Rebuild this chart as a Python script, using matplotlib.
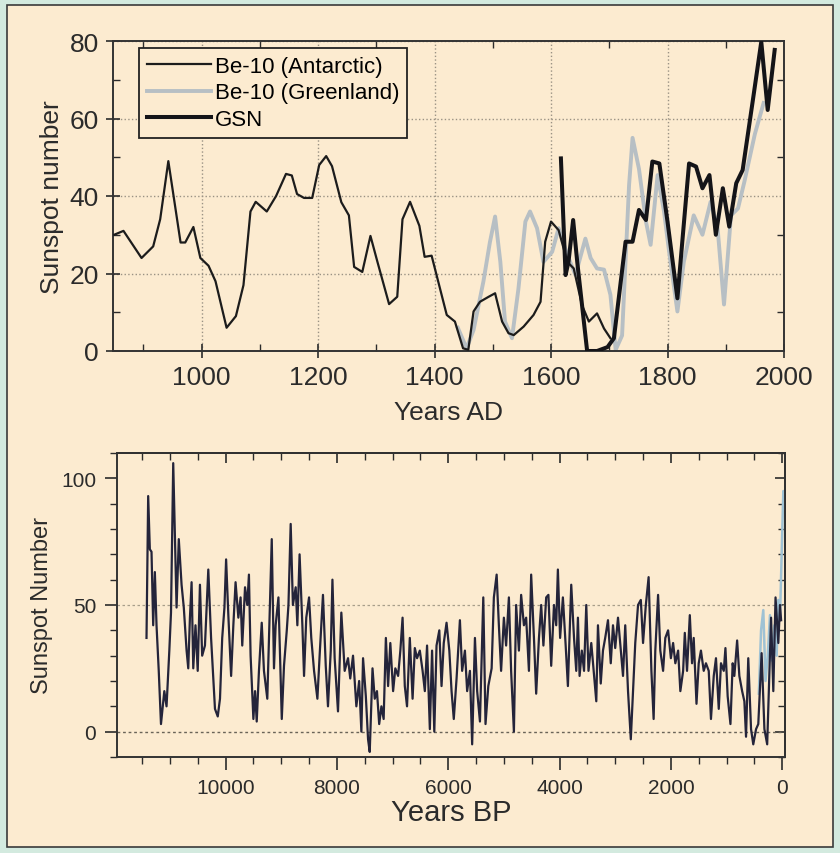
import matplotlib
matplotlib.use("Agg")
import matplotlib.pyplot as plt
from matplotlib.patches import Rectangle
from matplotlib.ticker import MultipleLocator, NullFormatter

plt.rcParams['font.family'] = ['Liberation Sans', 'DejaVu Sans']

# --- top panel: reconstructions for the last millennium (Years AD)
antarctic_year = [850, 866, 897, 917, 929, 943, 964, 972, 986, 998, 1012, 1024, 1043,
                  1059, 1072, 1084, 1093, 1112, 1128, 1145, 1155, 1164, 1176, 1190,
                  1202, 1214, 1224, 1240, 1253, 1262, 1276, 1290, 1302, 1322, 1336,
                  1345, 1358, 1374, 1383, 1395, 1421, 1435, 1449, 1458, 1467, 1478,
                  1493, 1504, 1516, 1527, 1536, 1553, 1570, 1582, 1590, 1600, 1613,
                  1628, 1639, 1653, 1665, 1679, 1691, 1702]
antarctic_ssn = [30, 31, 24, 27, 34, 49, 28, 28, 32, 24, 22, 18, 6,
                 9, 17, 36, 38.5, 36, 40, 45.7, 45.3, 40.5, 39.5, 39.5,
                 48, 50.3, 47.7, 38.4, 35, 21.7, 20.4, 29.7, 23, 12.1, 14,
                 34, 38.5, 32.3, 24.3, 24.6, 9.3, 7.6, 0.7, 0.3, 10.2, 12.7,
                 14, 14.9, 7.6, 4.6, 4.1, 6.3, 9.3, 12.7, 28.2, 33.4, 31.2,
                 23, 21.3, 11.9, 7.6, 9.7, 5.8, 3.3]

greenland_year = [1440, 1455, 1467, 1484, 1495, 1504, 1513, 1521, 1533, 1544, 1556,
                  1564, 1576, 1587, 1602, 1613, 1628, 1642, 1659, 1668, 1679, 1691,
                  1702, 1711, 1722, 1734, 1740, 1751, 1763, 1771, 1783, 1794, 1802,
                  1817, 1828, 1845, 1860, 1874, 1886, 1897, 1909, 1921, 1932, 1950, 1965]
greenland_ssn = [6, 0.7, 5.4, 18, 28, 34.7, 23, 7.6, 3.3, 16, 33.4,
                 36, 31.7, 23, 25.6, 31.7, 24.8, 19.6, 29, 24, 21.3, 21,
                 14.5, 0.3, 4, 42.8, 55, 47, 33.4, 27.4, 45.4, 36, 26.5,
                 10.2, 23, 35, 30, 38.5, 31.7, 12, 35, 36.8, 43.7, 56, 64]

gsn_year = [1617, 1625, 1630, 1638, 1645, 1662, 1679, 1697, 1708, 1728, 1740, 1751,
            1763, 1774, 1786, 1800, 1817, 1837, 1849, 1860, 1872, 1883, 1895, 1906,
            1918, 1929, 1947, 1961, 1972, 1984]
gsn_ssn = [49.7, 19.6, 23, 33.8, 23, 0, 0, 1, 3.3, 28.2, 28.2, 36.4,
           33.8, 48.9, 48.4, 33.4, 13.6, 48.4, 47.6, 42, 45.4, 30, 42, 32.1,
           43.3, 46.7, 65.2, 79.8, 62.2, 77.7]

# --- bottom panel: Holocene reconstruction (Years BP)
bp_year = [11420, 11390, 11360, 11330, 11300, 11270, 11240, 11200, 11160, 11100,
           11060, 11010, 10980, 10940, 10880, 10840, 10790, 10750, 10700, 10670,
           10640, 10610, 10580, 10540, 10500, 10460, 10420, 10370, 10310, 10260,
           10190, 10140, 10100, 10060, 10020, 9990, 9950, 9900, 9860, 9820,
           9770, 9730, 9700, 9650, 9610, 9580, 9550, 9500, 9470, 9440,
           9400, 9350, 9310, 9250, 9220, 9170, 9130, 9100, 9050, 8990,
           8950, 8900, 8870, 8830, 8790, 8740, 8710, 8670, 8620, 8590,
           8550, 8500, 8460, 8410, 8350, 8310, 8250, 8200, 8160, 8110,
           8080, 8040, 7980, 7920, 7860, 7800, 7760, 7710, 7650, 7600,
           7560, 7530, 7480, 7440, 7410, 7360, 7320, 7280, 7240, 7200,
           7160, 7120, 7080, 7040, 6990, 6950, 6900, 6860, 6820, 6780,
           6740, 6690, 6640, 6600, 6560, 6510, 6460, 6420, 6380, 6330,
           6290, 6250, 6210, 6160, 6120, 6080, 6030, 5980, 5940, 5900,
           5850, 5790, 5750, 5700, 5660, 5610, 5570, 5520, 5480, 5430,
           5370, 5330, 5280, 5220, 5180, 5130, 5090, 5050, 5000, 4960,
           4910, 4870, 4820, 4780, 4730, 4690, 4640, 4600, 4550, 4510,
           4460, 4420, 4370, 4330, 4290, 4240, 4200, 4150, 4100, 4060,
           4030, 3990, 3940, 3890, 3850, 3790, 3740, 3700, 3670, 3640,
           3600, 3560, 3520, 3480, 3430, 3380, 3340, 3310, 3260, 3220,
           3180, 3130, 3080, 3040, 3000, 2950, 2900, 2860, 2820, 2770,
           2720, 2680, 2640, 2590, 2540, 2500, 2450, 2400, 2350, 2310,
           2280, 2230, 2190, 2140, 2100, 2050, 2000, 1960, 1920, 1870,
           1830, 1780, 1750, 1710, 1660, 1620, 1590, 1540, 1500, 1460,
           1410, 1370, 1320, 1280, 1230, 1190, 1140, 1100, 1050, 1020,
           980, 930, 890, 860, 810, 770, 720, 680, 650, 610,
           560, 520, 470, 430, 370, 320, 270, 230, 200, 160,
           120, 90, 70, 40, 20]
bp_ssn = [37, 93, 72, 71, 42, 63, 42, 24, 3, 16,
          10, 32, 47, 106, 49, 76, 58, 49, 32, 25,
          45, 59, 25, 42, 24, 58, 30, 34, 64, 37,
          9, 6, 13, 37, 49, 68, 46, 22, 42, 59,
          45, 53, 34, 57, 50, 62, 30, 5, 16, 4,
          24, 43, 24, 13, 37, 76, 25, 42, 53, 5,
          26, 40, 50, 82, 50, 57, 42, 70, 42, 22,
          45, 53, 37, 24, 13, 30, 54, 26, 10, 32,
          60, 29, 8, 47, 24, 29, 21, 30, 10, 20,
          0, 29, 14, -3, -8, 25, 13, 16, 3, 10,
          5, 37, 18, 35, 16, 25, 22, 32, 45, 18,
          10, 37, 13, 33, 29, 32, 24, 16, 34, 1,
          32, 0, 34, 40, 18, 35, 43, 32, 16, 5,
          21, 44, 24, 32, 16, 24, -5, 37, 16, 4,
          53, 3, 18, 25, 53, 62, 42, 24, 45, 34,
          53, 24, 0, 50, 32, 54, 42, 45, 24, 62,
          37, 15, 37, 50, 34, 53, 54, 26, 50, 42,
          64, 37, 53, 34, 18, 58, 37, 24, 45, 22,
          32, 24, 50, 24, 35, 22, 12, 42, 19, 32,
          37, 44, 27, 42, 33, 45, 32, 22, 42, 16,
          -3, 16, 35, 50, 52, 35, 50, 61, 24, 5,
          32, 54, 32, 24, 37, 40, 29, 35, 27, 32,
          16, 24, 39, 24, 46, 27, 37, 11, 27, 32,
          24, 27, 24, 5, 22, 29, 9, 27, 24, 33,
          14, 3, 27, 22, 36, 22, 16, 12, -2, 29,
          1, -5, 1, 3, 31, 1, -5, 24, 45, 16,
          53, 42, 35, 50, 44]

recent_year = [420, 380, 340, 300, 260, 220, 180, 140, 100, 70, 40, 10, -20, -40]
recent_ssn = [15, 40, 48, 20, 30, 46, 28, 42, 30, 52, 45, 70, 95, 88]

W, H = 840, 854
fig = plt.figure(figsize=(W / 100, H / 100), dpi=100)
fig.patch.set_facecolor('#d3eadf')
cream = '#fcebd0'
fig.add_artist(Rectangle((7 / W, 6 / H), 826 / W, 842 / H, transform=fig.transFigure,
                         facecolor=cream, edgecolor='#3a3a3a', lw=1.2, zorder=-5))
ink = '#2b2b2b'

# top panel
ax1 = fig.add_axes([113 / W, 1 - 352 / H, 671 / W, 310 / H])
ax1.set_facecolor(cream)
ax1.plot(greenland_year, greenland_ssn, color='#b7bfc4', lw=2.8, label='Be-10 (Greenland)', zorder=2)
ax1.plot(antarctic_year, antarctic_ssn, color='#1c1c1c', lw=1.6, label='Be-10 (Antarctic)', zorder=3)
ax1.plot(gsn_year, gsn_ssn, color='#141418', lw=2.9, label='GSN', zorder=4)
ax1.set_xlim(848, 2000)
ax1.set_ylim(0, 80)
ax1.xaxis.set_major_locator(MultipleLocator(200))
ax1.xaxis.set_minor_locator(MultipleLocator(100))
ax1.yaxis.set_major_locator(MultipleLocator(20))
ax1.yaxis.set_minor_locator(MultipleLocator(10))
ax1.grid(True, which='major', ls=':', color='#9a9284', lw=1.0)
ax1.tick_params(which='major', direction='inout', length=10, width=1.2, labelsize=19,
                colors=ink, pad=5)
ax1.tick_params(which='minor', direction='in', length=5, width=1.0, top=True, right=True,
                colors=ink)
ax1.set_xlabel('Years AD', fontsize=19, color=ink, labelpad=8)
ax1.set_ylabel('Sunspot number', fontsize=19, color=ink, labelpad=4)
for s in ax1.spines.values():
    s.set_color('#333333')
    s.set_linewidth(1.4)
handles, labels = ax1.get_legend_handles_labels()
order = [1, 0, 2]
leg = ax1.legend([handles[i] for i in order], [labels[i] for i in order],
                 loc='upper left', bbox_to_anchor=(0.039, 0.977), borderaxespad=0,
                 fontsize=16, handlelength=2.9, handletextpad=0.15, labelspacing=0.25,
                 fancybox=False, framealpha=1, facecolor=cream, edgecolor='#222222',
                 borderpad=0.35)
leg.get_frame().set_linewidth(1.3)

# bottom panel
ax2 = fig.add_axes([117 / W, 1 - 758 / H, 668 / W, 304 / H])
ax2.set_facecolor(cream)
ax2.axhline(0, ls=(0, (2, 2)), color='#6a6458', lw=1.0, zorder=1)
ax2.axhline(50, ls=(0, (2, 2)), color='#a89e8a', lw=0.9, zorder=1)
ax2.plot(recent_year, recent_ssn, color='#9fc2d4', lw=1.8, zorder=2)
ax2.plot(bp_year, bp_ssn, color='#24243a', lw=1.6, zorder=3)
ax2.set_xlim(11950, -50)
ax2.set_ylim(-10, 110)
ax2.xaxis.set_major_locator(MultipleLocator(2000))
ax2.xaxis.set_minor_locator(MultipleLocator(500))
ax2.yaxis.set_major_locator(MultipleLocator(50))
ax2.yaxis.set_minor_locator(MultipleLocator(10))
ax2.xaxis.set_major_formatter(lambda v, p: f'{v:.0f}' if v > 0 else '0')
ax2.tick_params(which='major', direction='out', length=9, width=1.2, labelsize=15,
                colors=ink, pad=6)
ax2.tick_params(which='minor', direction='out', length=5, width=1.0, colors=ink)
for pos in ('top', 'right'):
    if pos == 'top':
        sec = ax2.secondary_xaxis('top')
        sec.xaxis.set_major_locator(MultipleLocator(2000))
        sec.xaxis.set_minor_locator(MultipleLocator(500))
        sec.xaxis.set_major_formatter(NullFormatter())
    else:
        sec = ax2.secondary_yaxis('right')
        sec.yaxis.set_major_locator(MultipleLocator(50))
        sec.yaxis.set_minor_locator(MultipleLocator(10))
        sec.yaxis.set_major_formatter(NullFormatter())
    sec.tick_params(which='major', direction='in', length=7, width=1.2, colors=ink)
    sec.tick_params(which='minor', direction='in', length=5, width=1.0, colors=ink)
    sec.spines[pos].set_linewidth(1.4)
ax2.set_xlabel('Years BP', fontsize=21, color=ink, labelpad=1)
ax2.set_ylabel('Sunspot Number', fontsize=17, color=ink, labelpad=6)
for s in ax2.spines.values():
    s.set_color('#333333')
    s.set_linewidth(1.4)

fig.savefig('out.png', dpi=100, facecolor=fig.get_facecolor())
